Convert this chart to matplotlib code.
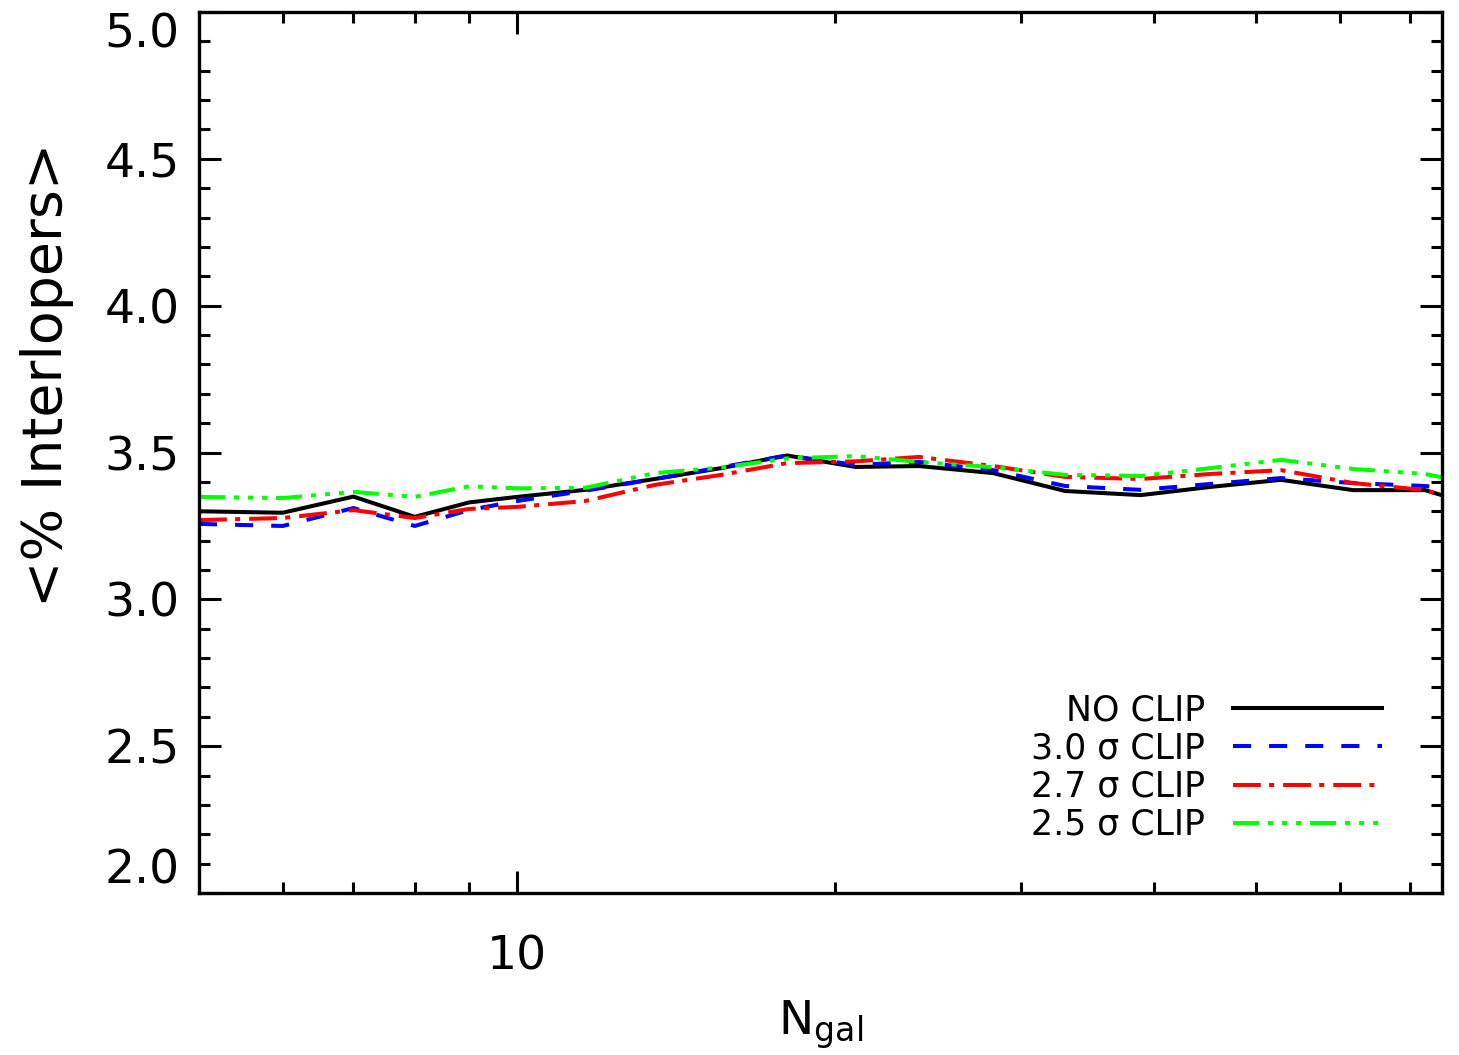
import matplotlib
matplotlib.use("Agg")
import matplotlib.pyplot as plt
from matplotlib.ticker import FixedLocator, NullFormatter, FixedFormatter, MultipleLocator

# N_gal bins (log spaced above 10)
n_gal = [5, 6, 7, 8, 9, 10, 11.6, 13.5, 15.6, 18.0, 20.9, 24.0, 28.2, 33.0, 38.9, 45.3, 52.8, 61.8, 72.3, 84.0]

no_clip = [3.300, 3.295, 3.350, 3.281, 3.330, 3.349, 3.373, 3.410, 3.447, 3.490, 3.451, 3.454, 3.430, 3.369,
           3.355, 3.383, 3.407, 3.372, 3.372, 3.300]
clip_30 = [3.257, 3.250, 3.311, 3.250, 3.304, 3.335, 3.370, 3.410, 3.450, 3.490, 3.458, 3.468, 3.440, 3.386,
           3.373, 3.393, 3.413, 3.396, 3.386, 3.360]
clip_27 = [3.270, 3.277, 3.304, 3.277, 3.308, 3.315, 3.335, 3.390, 3.424, 3.464, 3.470, 3.485, 3.454, 3.417,
           3.410, 3.427, 3.440, 3.396, 3.372, 3.300]
clip_25 = [3.349, 3.345, 3.366, 3.349, 3.385, 3.378, 3.380, 3.430, 3.449, 3.480, 3.488, 3.468, 3.450, 3.424,
           3.420, 3.447, 3.475, 3.444, 3.427, 3.380]

labels = ["NO CLIP", "3.0 \u03c3 CLIP", "2.7 \u03c3 CLIP", "2.5 \u03c3 CLIP"]
y_ticks = [2.0, 2.5, 3.0, 3.5, 4.0, 4.5, 5.0]

plt.rcParams['font.family'] = ['DejaVu Sans']
plt.rcParams['lines.scale_dashes'] = False

fig = plt.figure(figsize=(14.59, 10.55), dpi=100)
ax = fig.add_axes([0.1364, 0.1535, 0.852, 0.8351])

lw = 2.9
ax.plot(n_gal, no_clip, color='black', lw=lw, ls='-', label=labels[0])
ax.plot(n_gal, clip_30, color='#0000ff', lw=lw, ls=(0, (13, 13)), label=labels[1])
ax.plot(n_gal, clip_27, color='#ff0000', lw=lw, ls=(0, (20, 6, 3.6, 6.5)), label=labels[2])
ax.plot(n_gal, clip_25, color='#00ff00', lw=lw,
        ls=(0, (18.7, 6.5, 3.6, 6.5, 3.6, 6.5, 3.6, 6.5)), label=labels[3])

ax.set_xscale('log')
ax.set_xlim(5, 75)
ax.set_ylim(2.0, 5.0)

ax.xaxis.set_major_locator(FixedLocator([10]))
ax.xaxis.set_major_formatter(FixedFormatter(['10']))
ax.xaxis.set_minor_locator(FixedLocator([6, 7, 8, 9, 20, 30, 40, 50, 60, 70]))
ax.xaxis.set_minor_formatter(NullFormatter())

ax.set_yticks(y_ticks)
ax.set_yticklabels(['%.1f' % v for v in y_ticks])
ax.yaxis.set_minor_locator(MultipleLocator(0.1))

for s in ax.spines.values():
    s.set_linewidth(2.4)

ax.tick_params(which='both', direction='in', top=True, right=True, width=2.2)
ax.tick_params(axis='y', which='major', length=16, labelsize=34, pad=14)
ax.tick_params(axis='y', which='minor', length=8)
ax.tick_params(axis='x', which='major', length=16, labelsize=34, pad=30)
ax.tick_params(axis='x', which='minor', length=8)

# IDL style: end labels pulled inside the axis range
ticks = ax.yaxis.get_major_ticks()
ticks[0].label1.set_va('bottom')
ticks[-1].label1.set_va('top')

ax.set_ylabel('<% Interlopers>', fontsize=40)
ax.yaxis.set_label_coords(-0.122, 0.588)
ax.yaxis.label.set_va('center')
ax.set_xlabel('N$_{\\rm gal}$', fontsize=34)
ax.xaxis.set_label_coords(0.5, -0.15)
ax.xaxis.label.set_va('center')

ax.legend(loc='lower right', bbox_to_anchor=(0.952, 0.058), frameon=False, markerfirst=False,
          fontsize=25, handlelength=4.3, handletextpad=0.8, labelspacing=0.12,
          borderpad=0, borderaxespad=0)

fig.savefig('out.png', dpi=100)
